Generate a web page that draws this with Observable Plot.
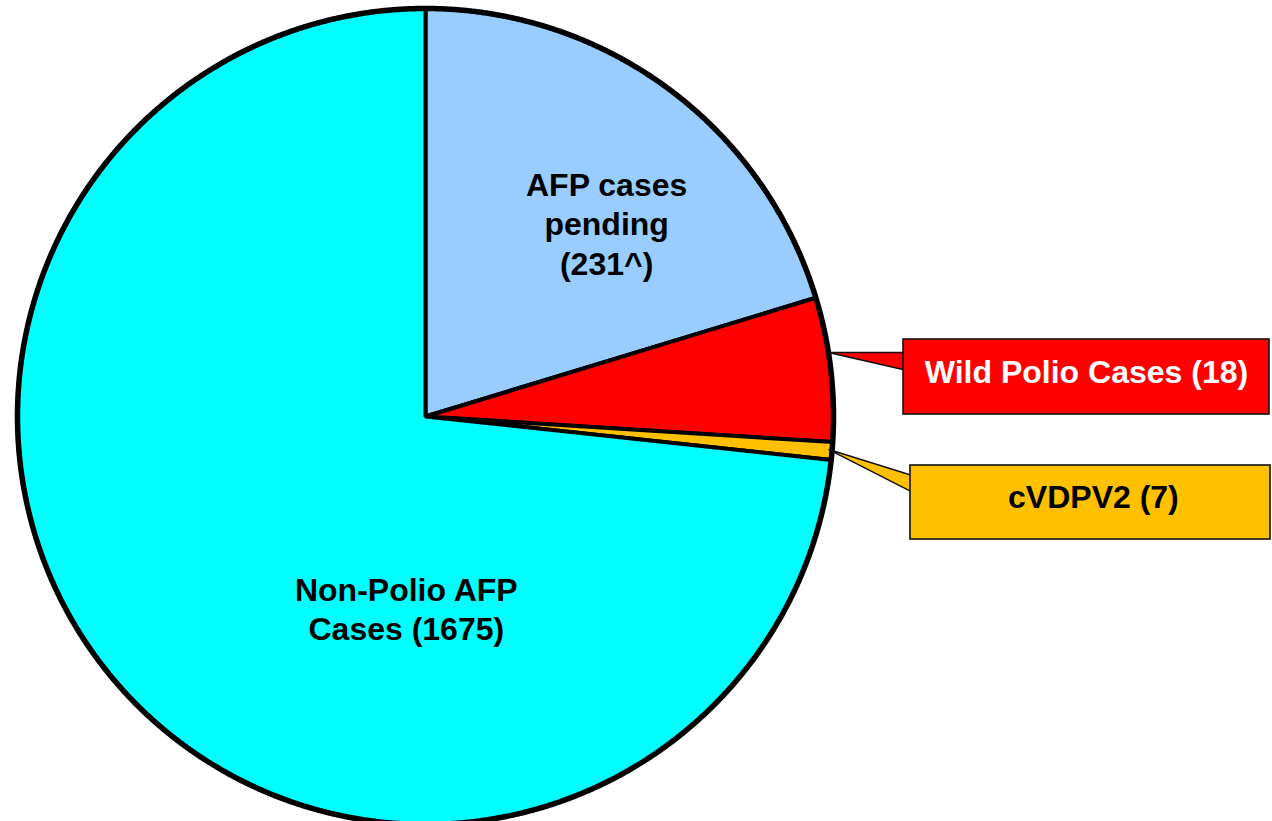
<!DOCTYPE html>
<html>
<head>
<meta charset="utf-8">
<script src="https://cdn.jsdelivr.net/npm/d3@7"></script>
<script src="https://cdn.jsdelivr.net/npm/@observablehq/plot@0.6"></script>
<style>
  html, body { margin: 0; padding: 0; background: #ffffff; overflow: hidden; }
  #chart svg { display: block; }
</style>
</head>
<body>
<div id="chart"></div>
<script>
// ---- data ----
const categories = ["AFP cases pending", "Wild Polio Cases", "cVDPV2", "Non-Polio AFP Cases"];
const caseCounts = [231, 18, 7, 1675];
// share of the pie as drawn in the picture (percent)
const sliceShares = [20.3, 5.7, 0.7, 73.3];
const sliceColors = ["#99CCFF", "#FF0000", "#FFC000", "#00FFFF"];
const labelTexts = [
  `AFP cases\npending\n(${caseCounts[0]}^)`,
  `Wild Polio Cases (${caseCounts[1]})`,
  `cVDPV2 (${caseCounts[2]})`,
  `Non-Polio AFP\nCases (${caseCounts[3]})`
];
const labelInk = ["#000000", "#ffffff", "#000000", "#000000"];

// ---- layout (unit-circle coordinates) ----
const labelPos = [[0.444, 0.4755], [1.620, 0.1127], [1.637, -0.1936], [-0.047, -0.469]];
const calloutLayout = [
  {k: 1, x1: 1.1716, x2: 2.0686, y1: 0.0049, y2: 0.1887, baseTop: 0.1569, baseBottom: 0.1103, tipY: 0.1569, tipR: 1.0},
  {k: 2, x1: 1.1887, x2: 2.0711, y1: -0.3015, y2: -0.1201, baseTop: -0.1495, baseBottom: -0.1936, tipY: -0.0809, tipR: 0.992}
];

// ---- geometry via d3.pie ----
const arcs = d3.pie().sort(null).value(d => d)(sliceShares);
const slicePts = [];
arcs.forEach((a, i) => {
  slicePts.push({k: i, x: 0, y: 0});
  const n = Math.max(2, Math.ceil((a.endAngle - a.startAngle) / 0.004));
  for (let j = 0; j <= n; j++) {
    const t = a.startAngle + (a.endAngle - a.startAngle) * j / n;
    slicePts.push({k: i, x: Math.sin(t), y: Math.cos(t)});
  }
});
const ringPts = d3.range(0, 1801).map(j => {
  const t = 2 * Math.PI * j / 1800;
  return {x: Math.sin(t), y: Math.cos(t)};
});
const pointerPts = [];
calloutLayout.forEach(c => {
  const tx = c.tipR * Math.sqrt(1 - c.tipY * c.tipY);
  pointerPts.push({k: c.k, x: tx, y: c.tipY});
  pointerPts.push({k: c.k, x: c.x1 + 0.02, y: c.baseTop});
  pointerPts.push({k: c.k, x: c.x1 + 0.02, y: c.baseBottom});
});
const labels = labelTexts.map((t, i) => ({text: t, x: labelPos[i][0], y: labelPos[i][1], ink: labelInk[i]}));

const cx = 425, cy = 416, R = 408;
const chart = Plot.plot({
  width: 1272,
  height: 821,
  margin: 0,
  x: {domain: [-1, 1], range: [cx - R, cx + R], axis: null},
  y: {domain: [-1, 1], range: [cy + R, cy - R], axis: null},
  color: {type: "identity"},
  style: {fontFamily: "'Liberation Sans', Arial, Helvetica, sans-serif", background: "#ffffff", overflow: "hidden"},
  marks: [
    Plot.line(slicePts, {x: "x", y: "y", z: "k", fill: d => sliceColors[d.k], stroke: "#000", strokeWidth: 4, curve: "linear-closed", strokeLinejoin: "miter"}),
    Plot.line(ringPts, {x: "x", y: "y", stroke: "#000", strokeWidth: 5.5}),
    Plot.line(pointerPts, {x: "x", y: "y", z: "k", fill: d => sliceColors[d.k], stroke: "#111", strokeWidth: 1.4, curve: "linear-closed"}),
    Plot.rect(calloutLayout, {x1: "x1", x2: "x2", y1: "y1", y2: "y2", fill: d => sliceColors[d.k], stroke: "#111", strokeWidth: 1.6}),
    Plot.text(labels, {x: "x", y: "y", text: "text", fill: "ink", fontSize: 32, fontWeight: "bold", lineHeight: 1.24})
  ]
});
document.getElementById("chart").appendChild(chart);
</script>
</body>
</html>
